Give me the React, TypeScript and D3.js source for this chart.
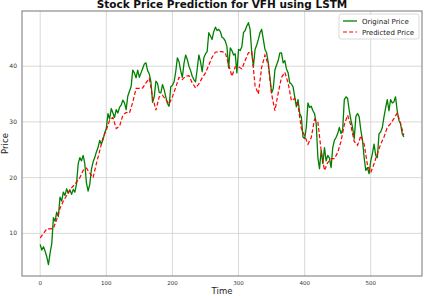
import * as d3 from "d3";
import React from "react";

// original sampled every 2.5 time steps, 0..550
const originalStep = 2.5;
const originalPrice = [
  8.0, 7.0, 7.6, 6.8, 5.8, 4.4, 6.5, 8.1, 12.8, 12.2,
  13.8, 13.0, 16.5, 15.8, 17.4, 16.8, 18.0, 17.2, 17.8, 17.0,
  17.9, 17.4, 18.9, 22.5, 23.6, 23.0, 24.0, 22.5, 19.0, 17.6,
  18.8, 21.5, 22.8, 23.6, 24.6, 25.4, 26.7, 26.0, 26.8, 28.0,
  28.8, 31.5, 30.5, 32.4, 31.6, 30.8, 32.2, 31.6, 32.6, 33.0,
  33.9, 33.4, 32.2, 34.6, 35.5, 36.3, 39.3, 38.8, 37.9, 39.3,
  38.0, 38.8, 39.6, 40.4, 40.6, 39.2, 38.6, 37.2, 33.5, 34.5,
  37.3, 36.9, 35.3, 35.2, 36.7, 35.8, 34.5, 33.3, 32.8, 36.3,
  36.6, 37.2, 39.0, 41.5, 40.8, 39.2, 38.0, 40.5, 42.0, 41.2,
  40.0, 39.2, 38.2, 37.6, 37.2, 39.5, 42.0, 40.8, 39.0, 41.5,
  42.2, 42.6, 46.0, 45.4, 44.8, 46.2, 47.0, 46.4, 46.6, 46.2,
  45.2, 45.0, 44.5, 43.5, 39.7, 43.3, 42.8, 42.0, 42.2, 38.8,
  43.0, 42.8, 43.5, 46.0, 46.4, 47.2, 47.8, 46.6, 42.4, 40.0,
  43.0, 43.8, 44.8, 46.0, 46.6, 44.8, 43.0, 42.4, 40.6, 38.0,
  35.2, 36.0, 39.3, 40.2, 41.0, 42.4, 42.4, 40.6, 41.0, 39.5,
  38.8, 37.0, 36.8, 36.3, 34.5, 32.7, 34.0, 31.5, 30.9, 27.3,
  27.0, 29.0, 33.4, 32.6, 32.8, 32.0, 31.5, 29.7, 23.6, 21.6,
  24.9, 22.5, 25.4, 23.0, 24.0, 23.5, 21.8, 25.4, 26.7, 27.2,
  27.9, 29.0, 27.9, 28.6, 34.0, 34.5, 34.2, 32.0, 30.3, 29.0,
  27.0, 31.0, 31.5, 30.9, 28.5, 26.7, 23.6, 21.3, 21.8, 20.7,
  23.0, 24.3, 26.0, 24.0, 23.6, 27.9, 28.2, 29.0, 30.9, 32.5,
  34.0, 32.0, 34.0, 33.4, 33.6, 34.5, 32.0, 30.3, 29.7, 27.9,
  27.3,
];
// predicted sampled every 5 time steps, 0..550
const predictedStep = 5;
const predictedPrice = [
  9.2, 10.0, 10.8, 10.8, 10.9, 12.5, 14.5, 15.8, 16.8, 17.8,
  18.5, 19.2, 20.0, 21.3, 21.7, 20.8, 20.0, 22.5, 24.8, 27.2,
  28.5, 30.3, 30.8, 28.8, 29.2, 31.2, 31.7, 31.6, 33.5, 36.0,
  36.0, 36.1, 37.0, 37.8, 34.5, 32.1, 34.5, 34.8, 34.0, 33.2,
  34.5, 36.2, 38.0, 37.6, 38.2, 38.3, 37.0, 36.1, 36.8, 37.9,
  38.8, 40.2, 41.6, 42.5, 42.6, 42.6, 42.4, 40.3, 38.2, 39.9,
  39.9, 39.5, 41.0, 42.4, 42.6, 36.5, 35.0, 39.8, 42.0, 40.2,
  35.0, 32.0, 35.2, 38.0, 38.9, 37.0, 33.8, 34.2, 33.0, 28.8,
  27.5, 26.0, 27.2, 30.5, 30.0, 24.8, 21.3, 22.7, 23.4, 23.4,
  24.5, 26.5, 29.5, 31.2, 29.3, 26.5, 25.8, 27.5, 26.0, 22.3,
  20.9, 22.5, 24.3, 26.0, 27.3, 29.0, 29.7, 30.6, 31.6, 29.7,
  27.6,
];
const xTicks = [0, 100, 200, 300, 400, 500];
const yTicks = [10, 20, 30, 40];

const width = 424;
const height = 296;
const margin = { left: 22, right: 2, top: 11, bottom: 20 };
const font = "DejaVu Sans, sans-serif";

export default function App() {
  const x = d3.scaleLinear().domain([-27.5, 577.5]).range([margin.left, width - margin.right]);
  const y = d3.scaleLinear().domain([2.35, 49.9]).range([height - margin.bottom, margin.top]);

  const originalLine = d3
    .line<number>()
    .x((_, i) => x(i * originalStep))
    .y((d) => y(d));
  const predictedLine = d3
    .line<number>()
    .x((_, i) => x(i * predictedStep))
    .y((d) => y(d));

  const left = margin.left;
  const right = width - margin.right;
  const top = margin.top;
  const bottom = height - margin.bottom;

  return (
    <svg
      width={width}
      height={height}
      style={{ position: "absolute", left: 0, top: 0, background: "#fff" }}
    >
      {/* grid */}
      {xTicks.map((t) => (
        <line key={"gx" + t} x1={x(t)} x2={x(t)} y1={top} y2={bottom} stroke="#cfcfcf" strokeWidth={0.8} />
      ))}
      {yTicks.map((t) => (
        <line key={"gy" + t} x1={left} x2={right} y1={y(t)} y2={y(t)} stroke="#cfcfcf" strokeWidth={0.8} />
      ))}

      <path d={originalLine(originalPrice) ?? ""} fill="none" stroke="#008000" strokeWidth={1.3} strokeLinejoin="round" />
      <path d={predictedLine(predictedPrice) ?? ""} fill="none" stroke="#ff0000" strokeWidth={1.2} strokeDasharray="4,2.2" />

      {/* spines */}
      <rect x={left} y={top} width={right - left} height={bottom - top} fill="none" stroke="#777" strokeWidth={1} />

      {/* tick labels */}
      {xTicks.map((t) => (
        <text key={"tx" + t} x={x(t)} y={bottom + 9} textAnchor="middle" fontFamily={font} fontSize={5.5} fill="#333">
          {t}
        </text>
      ))}
      {yTicks.map((t) => (
        <text key={"ty" + t} x={left - 5} y={y(t) + 2} textAnchor="end" fontFamily={font} fontSize={6} fill="#333">
          {t}
        </text>
      ))}

      {/* axis labels */}
      <text x={(left + right) / 2} y={294} textAnchor="middle" fontFamily={font} fontSize={8.5} fill="#222">
        Time
      </text>
      <text
        transform={`translate(8,${(top + bottom) / 2}) rotate(-90)`}
        textAnchor="middle"
        fontFamily={font}
        fontSize={8.5}
        fill="#222"
      >
        Price
      </text>

      {/* title */}
      <text x={(left + right) / 2} y={7.5} textAnchor="middle" fontFamily={font} fontSize={10.5} fontWeight="bold" fill="#111">
        Stock Price Prediction for VFH using LSTM
      </text>

      {/* legend */}
      <g>
        <rect x={339} y={14} width={80} height={25} rx={2} fill="#fff" fillOpacity={0.85} stroke="#d0d0d0" strokeWidth={0.8} />
        <line x1={343} x2={357} y1={21} y2={21} stroke="#008000" strokeWidth={1.3} />
        <text x={362} y={23.5} fontFamily={font} fontSize={7} fill="#222">Original Price</text>
        <line x1={343} x2={357} y1={32} y2={32} stroke="#ff0000" strokeWidth={1.2} strokeDasharray="4,2.2" />
        <text x={362} y={34.5} fontFamily={font} fontSize={7} fill="#222">Predicted Price</text>
      </g>
    </svg>
  );
}
